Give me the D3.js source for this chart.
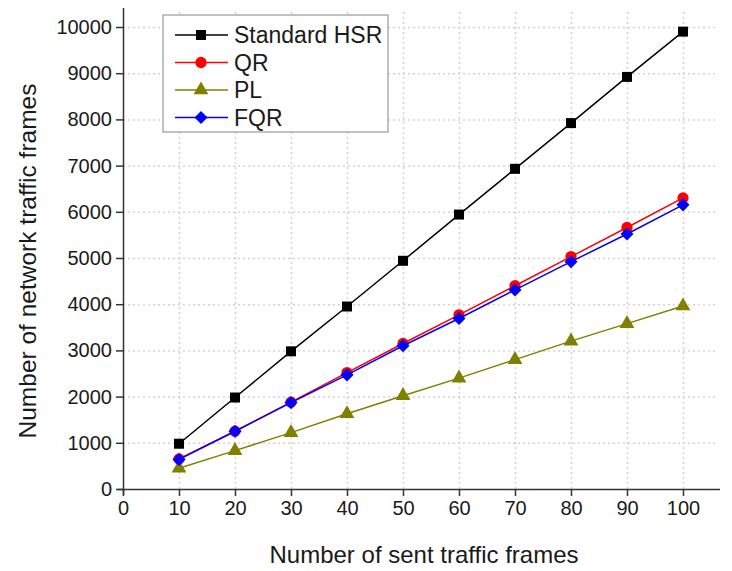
<!DOCTYPE html>
<html>
<head>
<meta charset="utf-8">
<script src="https://cdn.jsdelivr.net/npm/d3@7"></script>
<style>
  body { margin: 0; background: #fff; }
  text { font-family: "Liberation Sans", Arial, sans-serif; fill: #1a1a1a; }
  .grid line { stroke: #d4d4d4; stroke-dasharray: 2,3; }
  .grid path { display: none; }
</style>
</head>
<body>
<div class="vis"></div>
<script>
// data
var xValues = [10, 20, 30, 40, 50, 60, 70, 80, 90, 100];
var hsrValues = [980, 1980, 2980, 3950, 4940, 5940, 6930, 7920, 8920, 9900];
var qrValues = [650, 1250, 1880, 2520, 3150, 3770, 4400, 5030, 5660, 6300];
var plValues = [450, 830, 1220, 1630, 2020, 2400, 2800, 3200, 3580, 3960];
var fqrValues = [640, 1250, 1870, 2470, 3100, 3690, 4310, 4920, 5520, 6150];
var xTicks = [0, 10, 20, 30, 40, 50, 60, 70, 80, 90, 100];
var yTicks = [0, 1000, 2000, 3000, 4000, 5000, 6000, 7000, 8000, 9000, 10000];

var series = [
  {name: "Standard HSR", values: hsrValues, color: "#000000", symbol: d3.symbolSquare, size: 100, rot: 0},
  {name: "QR", values: qrValues, color: "#ff0000", symbol: d3.symbolCircle, size: 100, rot: 0},
  {name: "PL", values: plValues, color: "#808000", symbol: d3.symbolTriangle, size: 95, rot: 0},
  {name: "FQR", values: fqrValues, color: "#0000ff", symbol: d3.symbolSquare, size: 85, rot: 45}
];

var width = 732, height = 571;
var x = d3.scaleLinear().domain([0, 100]).range([123, 683]);
var y = d3.scaleLinear().domain([0, 10000]).range([489, 27]);

var svg = d3.select(".vis").append("svg")
  .attr("width", width)
  .attr("height", height);

// grid
svg.append("g").attr("class", "grid")
  .attr("transform", "translate(0,489)")
  .call(d3.axisBottom(x).tickValues(xTicks.slice(1)).tickSize(-(489 - 12)).tickFormat(""));
svg.append("g").attr("class", "grid")
  .attr("transform", "translate(123,0)")
  .call(d3.axisLeft(y).tickValues(yTicks.slice(1)).tickSize(-(718 - 123)).tickFormat(""));

// axes
var xAxis = svg.append("g")
  .attr("transform", "translate(0,489)")
  .call(d3.axisBottom(x).tickValues(xTicks).tickFormat(d3.format("d")).tickSize(7).tickSizeOuter(0).tickPadding(5));
xAxis.select(".domain").attr("d", "M118,0.5H720");
var yAxis = svg.append("g")
  .attr("transform", "translate(123,0)")
  .call(d3.axisLeft(y).tickValues(yTicks).tickFormat(d3.format("d")).tickSize(7).tickSizeOuter(0).tickPadding(4));
yAxis.select(".domain").attr("d", "M0.5,495V8");
svg.selectAll(".tick text").style("font-size", "20px").style("fill", "#1a1a1a");
svg.selectAll(".domain, .tick line").attr("stroke", "#333").attr("stroke-width", 1.5);

// axis titles
svg.append("text")
  .attr("x", 424).attr("y", 563)
  .attr("text-anchor", "middle")
  .style("font-size", "24px")
  .text("Number of sent traffic frames");
svg.append("text")
  .attr("transform", "translate(36,261) rotate(-90)")
  .attr("text-anchor", "middle")
  .style("font-size", "24.5px")
  .text("Number of network traffic frames");

// lines and markers
var line = d3.line()
  .x(function(d, i){ return x(xValues[i]); })
  .y(function(d){ return y(d); });

series.forEach(function(s){
  svg.append("path")
    .datum(s.values)
    .attr("fill", "none")
    .attr("stroke", s.color)
    .attr("stroke-width", 1.5)
    .attr("d", line);
  svg.selectAll(null)
    .data(s.values)
    .enter()
    .append("path")
      .attr("transform", function(d, i){ return "translate(" + x(xValues[i]) + "," + y(d) + ") rotate(" + s.rot + ")"; })
      .attr("d", d3.symbol().type(s.symbol).size(s.size))
      .attr("fill", s.color);
});

// legend
var legend = svg.append("g").attr("transform", "translate(163,15)");
legend.append("rect")
  .attr("width", 225).attr("height", 117)
  .attr("fill", "#fff")
  .attr("stroke", "#999")
  .attr("stroke-width", 1.2);
series.forEach(function(s, i){
  var g = legend.append("g").attr("transform", "translate(0," + (20 + i * 27.5) + ")");
  g.append("line")
    .attr("x1", 12).attr("x2", 65)
    .attr("stroke", s.color).attr("stroke-width", 1.5);
  g.append("path")
    .attr("transform", "translate(38,0) rotate(" + s.rot + ")")
    .attr("d", d3.symbol().type(s.symbol).size(s.size))
    .attr("fill", s.color);
  g.append("text")
    .attr("x", 71).attr("y", 8)
    .style("font-size", "23px")
    .text(s.name);
});
</script>
</body>
</html>
